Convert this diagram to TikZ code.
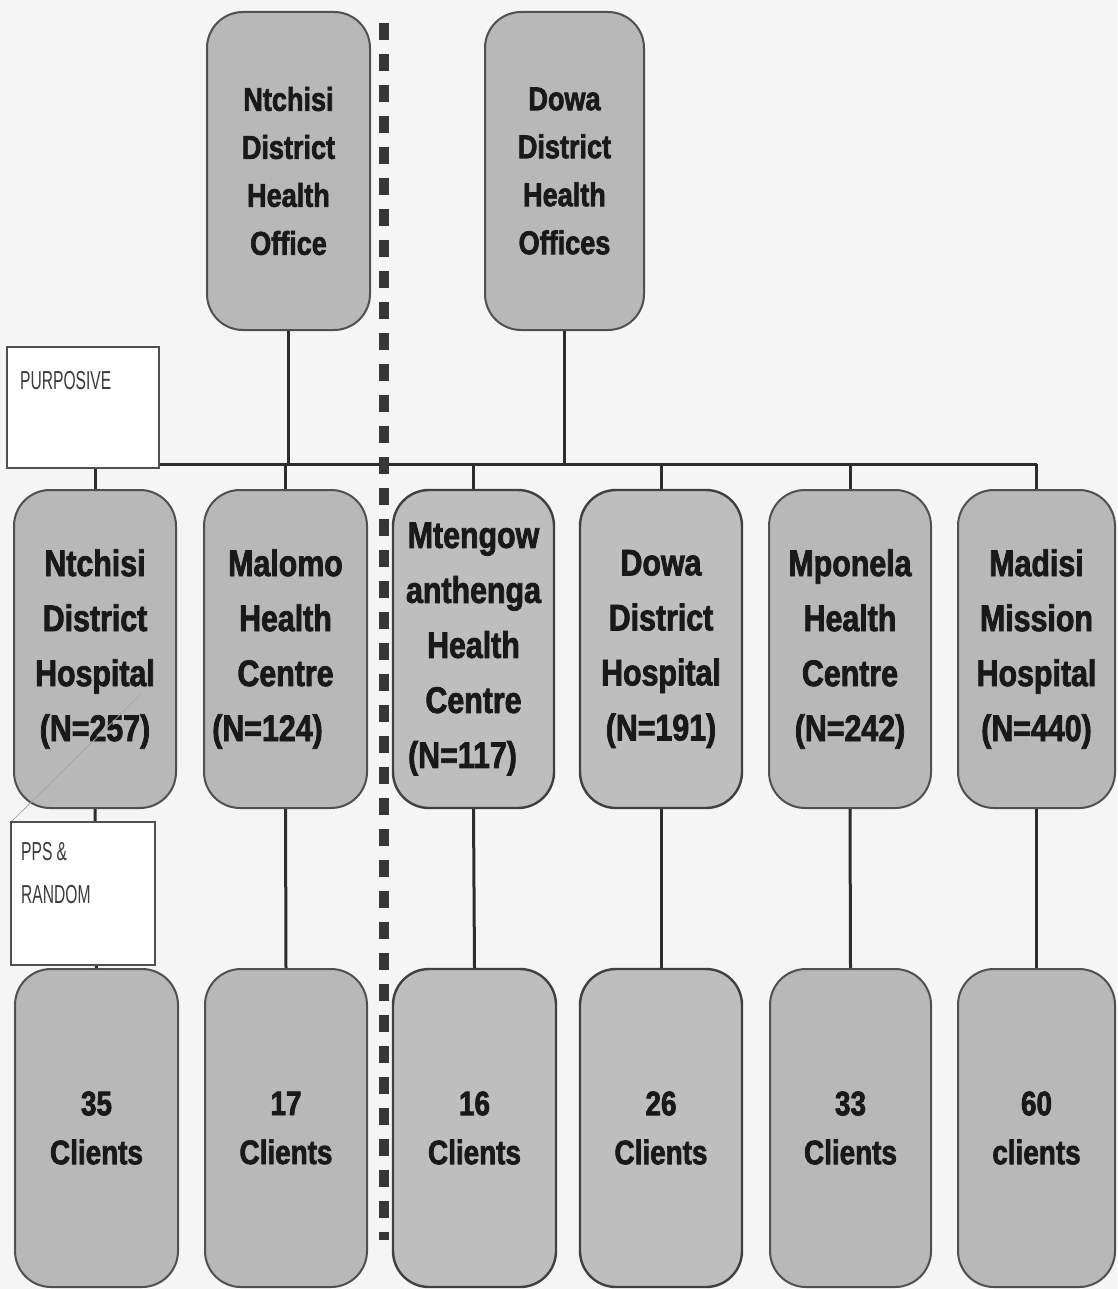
\documentclass[tikz,border=0pt]{standalone}
\usepackage{fontspec}
\setmainfont{Liberation Sans}
\newfontfamily\narrowfont[FakeStretch=0.6]{Liberation Sans}
\newfontfamily\narrowbold[FakeStretch=0.82, FakeBold=2]{Liberation Sans Bold}
\definecolor{bgcol}{RGB}{245,245,245}
\definecolor{boxfill}{RGB}{184,184,184}
\definecolor{boxfillb}{RGB}{190,190,190}
\definecolor{boxline}{RGB}{80,80,80}
\definecolor{linec}{RGB}{45,45,45}
\definecolor{textc}{RGB}{25,25,25}
\definecolor{dashc}{RGB}{55,55,55}
\begin{document}
\begin{tikzpicture}[x=1pt,y=-1pt,
  gbox/.style={draw=boxline, line width=2pt, rounded corners=36pt, fill=boxfill,
    text=textc, align=center, inner sep=0pt, minimum height=318pt},
  gboxb/.style={gbox, fill=boxfillb, draw=boxline!80!black, line width=2.4pt},
  topfont/.style={font=\narrowbold\fontsize{33}{48}\selectfont},
  midfont/.style={font=\narrowbold\fontsize{37}{55}\selectfont},
  botfont/.style={font=\narrowbold\fontsize{34}{49}\selectfont},
  labbox/.style={draw=boxline, line width=1.6pt, fill=white, inner sep=0pt},
  labtext/.style={font=\narrowfont\fontsize{26}{43}\selectfont, text=textc!85, align=left, inner sep=0pt},
  conn/.style={draw=linec, line width=3pt},
  dashline/.style={draw=dashc, line width=10pt, dash pattern=on 17pt off 14pt},
  faint/.style={draw=black!35, line width=0.8pt}
]
\useasboundingbox (0,0) rectangle (1117,1289);
\fill[bgcol] (0,0) rectangle (1117,1289);

% top level
\node[gbox, topfont, minimum width=163pt] (ndho) at (288.5,171) {Ntchisi\\District\\Health\\Office};
\node[gbox, topfont, minimum width=159pt] (ddho) at (564.5,171) {Dowa\\District\\Health\\Offices};

% second level
\node[gbox, midfont, minimum width=162pt] (nh) at (95,649) {Ntchisi\\District\\Hospital\\(N=257)};
\node[gbox, midfont, minimum width=163pt] (mal) at (285.5,649) {Malomo\\Health\\Centre\\(N=124)\hspace*{36pt}};
\node[gboxb, midfont, minimum width=161pt] (mten) at (473.5,649) {Mtengow\\anthenga\\Health\\Centre\\(N=117)\hspace*{22pt}};
\node[gboxb, midfont, minimum width=162pt] (ddh) at (661,649) {Dowa\\District\\Hospital\\(N=191)};
\node[gbox, midfont, minimum width=162pt] (mpo) at (850,649) {Mponela\\Health\\Centre\\(N=242)};
\node[gbox, midfont, minimum width=157pt] (mad) at (1036.5,649) {Madisi\\Mission\\Hospital\\(N=440)};

% third level
\node[gbox, botfont, minimum width=163pt] (c35) at (96.5,1128) {35\\Clients};
\node[gbox, botfont, minimum width=162pt] (c17) at (286,1128) {17\\Clients};
\node[gboxb, botfont, minimum width=163pt] (c16) at (474.5,1128) {16\\Clients};
\node[gboxb, botfont, minimum width=162pt] (c26) at (661,1128) {26\\Clients};
\node[gbox, botfont, minimum width=161pt] (c33) at (850.5,1128) {33\\Clients};
\node[gbox, botfont, minimum width=157pt] (c60) at (1036.5,1128) {60\\clients};

% bus
\coordinate (bus) at (0,464);
\draw[conn] (nh.north |- bus) -- (mad.north |- bus);
\draw[conn] (ndho.south) -- (ndho.south |- bus);
\draw[conn] (ddho.south) -- (ddho.south |- bus);
\foreach \n in {nh,mal,mten,ddh,mpo,mad}{
  \draw[conn] (\n.north |- bus) -- (\n.north);
}
\draw[conn] (nh.south) -- (c35.north);
\draw[conn] (mal.south) -- (c17.north);
\draw[conn] (mten.south) -- (c16.north);
\draw[conn] (ddh.south) -- (c26.north);
\draw[conn] (mpo.south) -- (c33.north);
\draw[conn] (mad.south) -- (c60.north);

% faint stray diagonal
\coordinate (fa) at (140,695);
\coordinate (fb) at (11,822);
\draw[faint] (fa) -- (fb);

% method labels
\node[labbox, minimum width=152pt, minimum height=121pt] (purp) at (83,407.5) {};
\node[labtext, anchor=west] (purpt) at (20,381) {PURPOSIVE};
\node[labbox, minimum width=144pt, minimum height=143pt] (pps) at (83,893.5) {};
\node[labtext, anchor=west] (ppst) at (21,873) {PPS \&\\RANDOM};

% dividing dashed line
\coordinate (dtop) at (384,23);
\coordinate (dbot) at (384,1240);
\draw[dashline] (dtop) -- (dbot);
\end{tikzpicture}
\end{document}
